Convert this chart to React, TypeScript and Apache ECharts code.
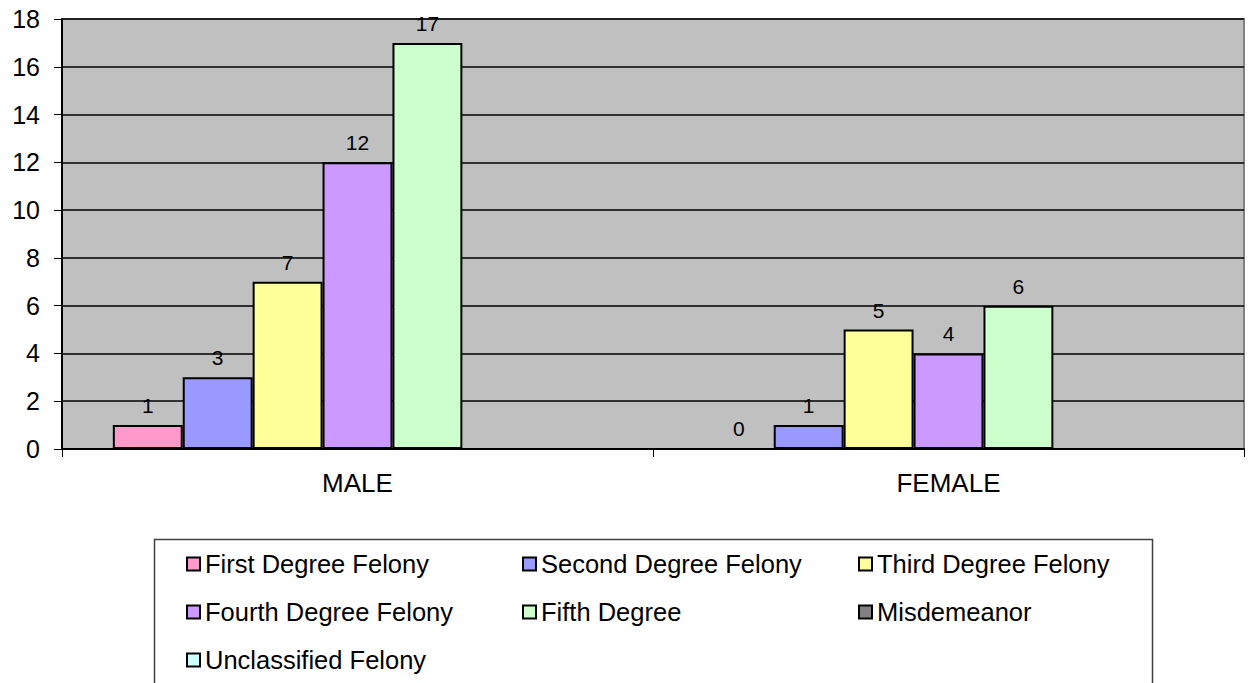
import React, { useEffect, useRef } from "react";
import * as echarts from "echarts";

const categories = ["MALE", "FEMALE"];
const seriesNames = [
  "First Degree Felony",
  "Second Degree Felony",
  "Third Degree Felony",
  "Fourth Degree Felony",
  "Fifth Degree",
  "Misdemeanor",
  "Unclassified Felony",
];
const firstDegree = [1, 0];
const secondDegree = [3, 1];
const thirdDegree = [7, 5];
const fourthDegree = [12, 4];
const fifthDegree = [17, 6];
const misdemeanor: (number | null)[] = [null, null];
const unclassified: (number | null)[] = [null, null];
const seriesValues = [firstDegree, secondDegree, thirdDegree, fourthDegree, fifthDegree, misdemeanor, unclassified];
const colors = ["#ff99cc", "#9999ff", "#ffff99", "#cc99ff", "#ccffcc", "#808080", "#ccffff"];
const yTicks = { min: 0, max: 18, interval: 2 };

const FONT = "'Liberation Sans', Arial, sans-serif";

// legend layout: column x of icon, row top y
const legendCols = [186, 522, 858];
const legendRows = [551, 599, 647];

export default function App() {
  const ref = useRef<HTMLDivElement>(null);
  useEffect(() => {
    if (!ref.current) return;
    const chart = echarts.init(ref.current, undefined, { renderer: "svg" });
    const legends = seriesNames.map((name, i) => ({
      data: [{ name, icon: "rect" }],
      left: legendCols[i % 3],
      top: legendRows[Math.floor(i / 3)],
      padding: 0,
      itemWidth: 13,
      itemHeight: 13,
      selectedMode: false,
      textStyle: { fontSize: 25.5, color: "#000", fontFamily: FONT },
    }));
    chart.setOption({
      animation: false,
      textStyle: { fontFamily: FONT },
      grid: {
        left: 62,
        top: 19,
        right: 7,
        bottom: 234,
        show: true,
        backgroundColor: "#c0c0c0",
        borderColor: "#808080",
        borderWidth: 2,
      },
      legend: legends,
      graphic: [
        {
          type: "rect",
          shape: { x: 154.5, y: 539.5, width: 998, height: 170 },
          style: { fill: "none", stroke: "#404040", lineWidth: 1.5 },
          z: 0,
        },
      ],
      xAxis: {
        type: "category",
        data: categories,
        axisLine: { lineStyle: { color: "#000", width: 2 } },
        axisTick: { show: true, length: 8, lineStyle: { color: "#000" } },
        axisLabel: { fontSize: 26, color: "#000", margin: 21, fontFamily: FONT },
      },
      yAxis: {
        type: "value",
        min: yTicks.min,
        max: yTicks.max,
        interval: yTicks.interval,
        axisLine: { show: true, lineStyle: { color: "#000", width: 2 } },
        axisTick: { show: true, length: 8, lineStyle: { color: "#000" } },
        axisLabel: { fontSize: 25, color: "#000", margin: 22, fontFamily: FONT },
        splitLine: { lineStyle: { color: "#000", width: 1.5 } },
      },
      series: seriesNames.map((name, i) => ({
        name,
        type: "bar",
        data: seriesValues[i],
        barGap: "0%",
        barCategoryGap: "17.2%",
        itemStyle: { color: colors[i], borderColor: "#000", borderWidth: 2 },
        label: {
          show: true,
          position: "top",
          distance: 9,
          fontSize: 21,
          color: "#000",
          fontFamily: FONT,
        },
      })),
    });
    return () => chart.dispose();
  }, []);
  return (
    <div
      ref={ref}
      style={{ position: "fixed", left: 0, top: 0, width: 1251, height: 683, background: "#fff" }}
    />
  );
}
